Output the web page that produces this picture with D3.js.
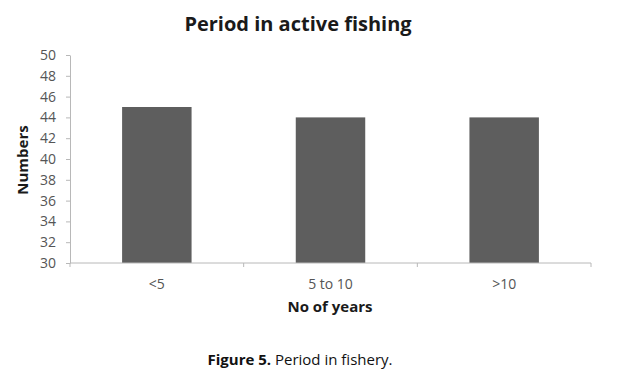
<!DOCTYPE html>
<html lang="en">
<head>
    <meta charset="UTF-8">
    <title>Period in active fishing</title>
    <script src="https://d3js.org/d3.v7.min.js"></script>
    <style>
        body { margin: 0; background: #fff; }
        text { font-family: "Open Sans", "DejaVu Sans", sans-serif; }
    </style>
</head>
<body>
    <div id="chart"></div>
    <script>
        // chart data
        var categories = ["<5", "5 to 10", ">10"];
        var values = [45, 44, 44];
        var yTicks = [30, 32, 34, 36, 38, 40, 42, 44, 46, 48, 50];

        var W = 620, H = 374;
        var margin = {top: 55, right: 29, bottom: 111, left: 70},
            width = W - margin.left - margin.right,
            height = H - margin.top - margin.bottom;

        var svg = d3.select("#chart").append("svg")
            .attr("width", W)
            .attr("height", H);

        var g = svg.append("g")
            .attr("transform", "translate(" + margin.left + "," + margin.top + ")");

        var x = d3.scaleBand()
            .domain(categories)
            .range([0, width])
            .paddingInner(0.6)
            .paddingOuter(0.3);

        var y = d3.scaleLinear()
            .domain([30, 50])
            .range([height, 0]);

        // bars
        g.selectAll(".bar")
            .data(values)
            .enter().append("rect")
            .attr("class", "bar")
            .attr("x", (d, i) => x(categories[i]))
            .attr("y", d => y(d))
            .attr("width", x.bandwidth())
            .attr("height", d => height - y(d))
            .attr("fill", "#5e5e5e");

        // y axis
        var yAxis = g.append("g")
            .call(d3.axisLeft(y).tickValues(yTicks).tickSize(4).tickSizeOuter(0).tickPadding(10));
        yAxis.select(".domain").attr("stroke", "#b8b8b8");
        yAxis.selectAll(".tick line").attr("stroke", "#b8b8b8");
        yAxis.selectAll(".tick text")
            .attr("fill", "#555")
            .style("font-size", "14px");

        // x axis: ticks sit on category boundaries
        var step = x.step();
        var xAxis = g.append("g")
            .attr("transform", "translate(0," + height + ")");
        xAxis.append("line")
            .attr("x1", 0).attr("x2", width)
            .attr("stroke", "#b8b8b8");
        var bounds = d3.range(categories.length + 1).map(i => i === 0 ? 0 : (i === categories.length ? width : x(categories[i - 1]) + x.bandwidth() + step * x.paddingInner() / 2));
        xAxis.selectAll(".xt")
            .data(bounds)
            .enter().append("line")
            .attr("x1", d => d).attr("x2", d => d)
            .attr("y1", 0).attr("y2", 4)
            .attr("stroke", "#b8b8b8");
        xAxis.selectAll(".xl")
            .data(categories)
            .enter().append("text")
            .attr("x", d => x(d) + x.bandwidth() / 2)
            .attr("y", 26)
            .attr("text-anchor", "middle")
            .attr("fill", "#555")
            .style("font-size", "14px")
            .text(d => d);

        // titles
        svg.append("text")
            .attr("x", 298).attr("y", 31)
            .attr("text-anchor", "middle")
            .style("font-size", "20px")
            .style("font-weight", "bold")
            .attr("fill", "#1a1a1a")
            .text("Period in active fishing");

        svg.append("text")
            .attr("x", 330).attr("y", 312)
            .attr("text-anchor", "middle")
            .style("font-size", "15px")
            .style("font-weight", "bold")
            .attr("fill", "#1a1a1a")
            .text("No of years");

        svg.append("text")
            .attr("transform", "translate(28,160) rotate(-90)")
            .attr("text-anchor", "middle")
            .style("font-size", "15px")
            .style("font-weight", "bold")
            .attr("fill", "#1a1a1a")
            .text("Numbers");

        // caption
        var cap = svg.append("text")
            .attr("x", 300).attr("y", 365)
            .attr("text-anchor", "middle")
            .style("font-size", "15px")
            .attr("fill", "#111");
        cap.append("tspan").style("font-weight", "bold").text("Figure 5.");
        cap.append("tspan").text(" Period in fishery.");
    </script>
</body>
</html>
